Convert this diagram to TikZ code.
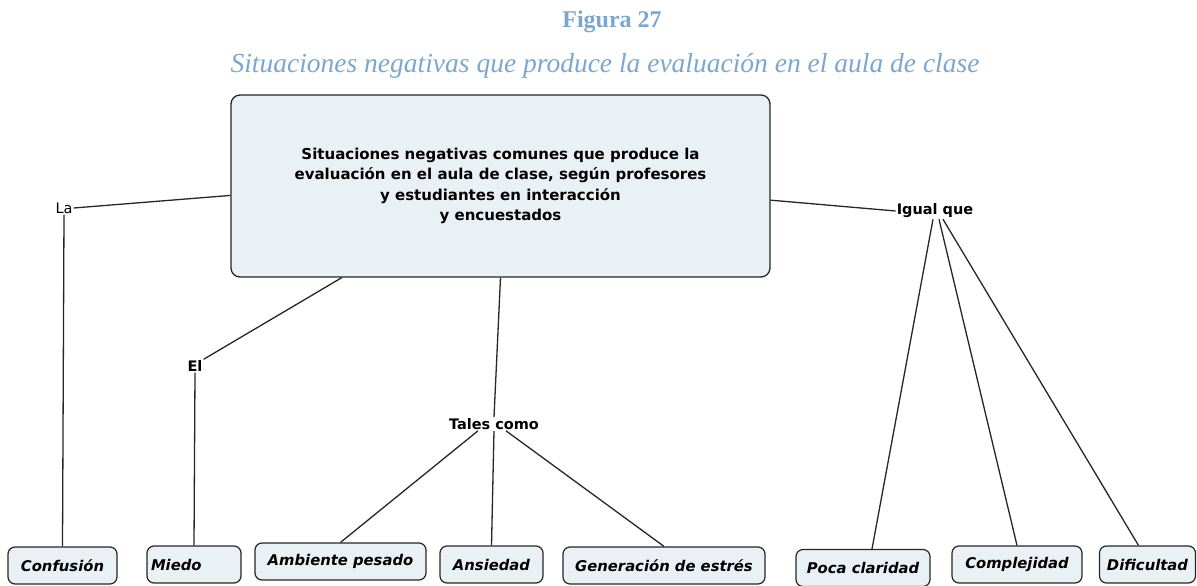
\documentclass[tikz,border=0pt]{standalone}
\usepackage{fontspec}
\setmainfont{Liberation Serif}
\setsansfont{DejaVu Sans}
\usetikzlibrary{positioning,calc}
\definecolor{titleblue}{RGB}{122,167,209}
\definecolor{boxfill}{RGB}{233,241,245}

\begin{document}
\begin{tikzpicture}[
    x=1pt, y=-1pt,
    mainbox/.style={
        rectangle, rounded corners=9pt, draw=black!85, line width=1.3pt,
        fill=boxfill, minimum width=539pt, minimum height=182pt,
        align=center, font=\fontsize{15}{20.5}\selectfont\sffamily\bfseries, inner sep=4pt
    },
    % leaf concepts: italic bold sans
    leaf/.style={
        rectangle, rounded corners=7pt, draw=black!85, line width=1.2pt,
        fill=boxfill, minimum height=37pt, inner sep=2pt,
        font=\fontsize{14.8}{16}\selectfont\sffamily\bfseries\itshape
    },
    % linking words
    link/.style={
        font=\fontsize{14.5}{16}\selectfont\sffamily\bfseries, inner sep=1pt
    },
    conn/.style={line width=1.3pt, black!85}
]
\useasboundingbox (0,0) rectangle (1197,586);

% === Title ===
\node[font=\fontsize{24}{28}\selectfont\bfseries, text=titleblue] (FIG) at (612,22) {Figura 27};
\node[font=\fontsize{27.5}{30}\selectfont\itshape, text=titleblue] (SUB) at (605,66)
    {Situaciones negativas que produce la evaluación en el aula de clase};

% === Nodes ===
\node[mainbox] (S) at (500.5,186) {Situaciones negativas comunes que produce la\\
    evaluación en el aula de clase, según profesores\\
    y estudiantes en interacción\\
    y encuestados};

\node[link, font=\fontsize{14.5}{16}\selectfont\sffamily] (LA) at (64,208) {La};
\node[link] (EL)  at (195,366) {El};
\node[link] (TC)  at (494,424) {Tales como};
\node[link] (IQ)  at (935,211) {Igual que};

\node[leaf, minimum width=109pt] (CO) at (62.5,565.5) {Confusión};
\node[leaf, minimum width=94pt, text width=86pt, align=left] (MI) at (194,564.5) {Miedo};
\node[leaf, minimum width=171pt] (AP) at (340.5,561.5) {Ambiente pesado};
\node[leaf, minimum width=103pt] (AN) at (491.5,564.5) {Ansiedad};
\node[leaf, minimum width=202pt] (GE) at (664,565.5) {Generación de estrés};
\node[leaf, minimum width=134pt] (PC) at (863,568) {Poca claridad};
\node[leaf, minimum width=130pt] (CP) at (1017,564.5) {Complejidad};
\node[leaf, minimum width=96pt] (DI) at (1147.5,564.5) {Dificultad};

% === Connectors from the main concept ===
\draw[conn] (S.182) -- (LA.east);
\draw[conn] (S.210) -- (EL.north east);
\draw[conn] (S.south) -- (TC.north);
\draw[conn] (S.-3) -- (IQ.west);

% === Connectors to the leaves ===
\draw[conn] (LA.south) -- (CO.north);
\draw[conn] (EL.south) -- (MI.north);

\draw[conn] ([xshift=-16pt]TC.south) -- (AP.north);
\draw[conn] (TC.south) -- (AN.north);
\draw[conn] ([xshift=12pt]TC.south) -- (GE.north);

\draw[conn] ([xshift=-2pt]IQ.south) -- ([xshift=9pt]PC.north);
\draw[conn] ([xshift=4pt]IQ.south) -- (CP.north);
\draw[conn] ([xshift=8pt]IQ.south) -- ([xshift=-9pt]DI.north);

\end{tikzpicture}
\end{document}
